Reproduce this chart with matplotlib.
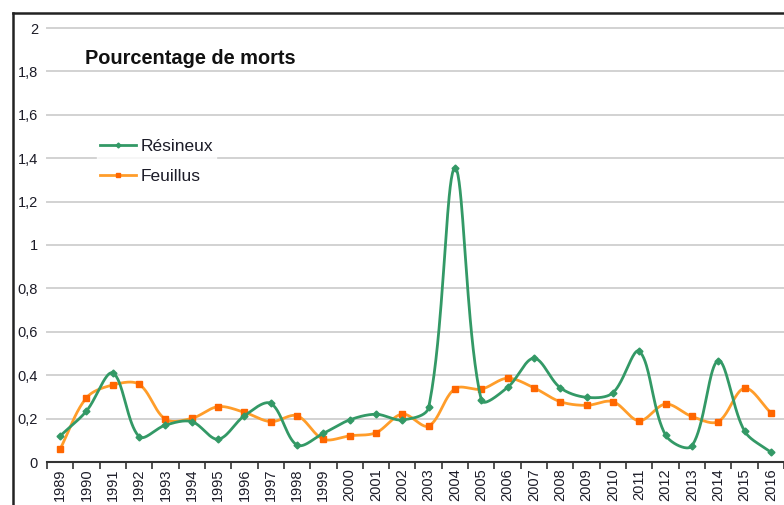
import numpy as np
import matplotlib
matplotlib.use("Agg")
import matplotlib.pyplot as plt
from matplotlib.lines import Line2D

plt.rcParams['font.family'] = ['Liberation Sans', 'DejaVu Sans']

years = [str(y) for y in range(1989, 2017)]
resineux = [0.12, 0.235, 0.41, 0.117, 0.17, 0.186, 0.105, 0.213, 0.27, 0.078,
            0.132, 0.194, 0.22, 0.194, 0.252, 1.355, 0.286, 0.344, 0.478, 0.342,
            0.298, 0.319, 0.51, 0.124, 0.074, 0.467, 0.143, 0.045]
feuillus = [0.06, 0.296, 0.355, 0.358, 0.197, 0.201, 0.255, 0.229, 0.186, 0.213,
            0.105, 0.121, 0.135, 0.221, 0.166, 0.338, 0.336, 0.386, 0.342, 0.278,
            0.261, 0.278, 0.19, 0.267, 0.21, 0.186, 0.34, 0.227]
yticks = [0, 0.2, 0.4, 0.6, 0.8, 1, 1.2, 1.4, 1.6, 1.8, 2]
ytick_labels = ['0', '0,2', '0,4', '0,6', '0,8', '1', '1,2', '1,4', '1,6', '1,8', '2']

W, H = 784, 505
XPX, YPX = 26.7, 217.0  # approximate pixels per data unit, used for chord lengths


def smooth(xs, ys, n=40):
    p = np.column_stack([xs, ys]).astype(float)
    q = p * np.array([XPX, YPX])
    m = len(p)
    L = np.hypot(*(q[1:] - q[:-1]).T)
    out = [p[0]]
    for i in range(m - 1):
        p1, p2 = p[i], p[i + 1]
        if i > 0:
            d = p[i + 1] - p[i - 1]
            c1 = p1 + d * L[i] / (L[i - 1] + L[i]) / 3.0
        else:
            c1 = p1 + (p2 - p1) / 3.0
        if i + 2 < m:
            d = p[i + 2] - p[i]
            c2 = p2 - d * L[i] / (L[i] + L[i + 1]) / 3.0
        else:
            c2 = p2 - (p2 - p1) / 3.0
        t = np.linspace(0, 1, n)[1:, None]
        seg = ((1 - t) ** 3) * p1 + 3 * ((1 - t) ** 2) * t * c1 + 3 * (1 - t) * t ** 2 * c2 + t ** 3 * p2
        out.extend(seg)
    out = np.array(out)
    return out[:, 0], out[:, 1]


fig = plt.figure(figsize=(W / 100, H / 100), dpi=100)
ax = fig.add_axes([47 / W, (H - 462) / H, (W - 47) / W, (462 - 28) / H])

x = np.arange(len(years))
green = '#339966'
orange_line = '#ff9d2a'
orange_mk = '#ff6600'
txt = '#1c1c28'

sx, sy = smooth(x, feuillus)
ax.plot(sx, sy, color=orange_line, lw=2, zorder=3)
ax.plot(x, feuillus, ls='none', marker='s', ms=5, color=orange_mk, zorder=4)
sx, sy = smooth(x, resineux)
ax.plot(sx, sy, color=green, lw=2, zorder=5)
ax.plot(x, resineux, ls='none', marker='D', ms=3.5, color=green, zorder=6)

ax.set_xlim(-0.5, 27.1)
ax.set_ylim(0, 2)
ax.set_yticks(yticks)
ax.set_yticklabels(ytick_labels)
ax.grid(axis='y', color='#d2d2d2', lw=1.4)
for gl in ax.get_ygridlines():
    gl.set_clip_on(False)
ax.set_axisbelow(True)
for s in ['top', 'right', 'left']:
    ax.spines[s].set_visible(False)
ax.spines['bottom'].set_color('#333333')
ax.spines['bottom'].set_linewidth(1.5)
ax.tick_params(axis='y', length=0, pad=6.5, labelsize=10.5, labelcolor=txt)

ax.set_xticks(np.arange(-0.5, 28, 1))
ax.set_xticklabels([])
ax.set_xticks(x, minor=True)
ax.set_xticklabels(years, minor=True, rotation=90, fontsize=10.5, color=txt)
ax.tick_params(axis='x', which='major', length=5, width=1.2, color='#333333', direction='out')
ax.tick_params(axis='x', which='minor', length=0, pad=4.5)

ax.text(85 / W, 1 - 58 / H, 'Pourcentage de morts', transform=fig.transFigure,
        fontsize=14.4, fontweight='bold', va='center', ha='left', color='#111111')

handles = [Line2D([], [], color=green, lw=2, marker='D', ms=2.5),
           Line2D([], [], color=orange_line, lw=2, marker='s', ms=3, mfc=orange_mk, mec=orange_mk)]
leg = ax.legend(handles, ['Résineux', 'Feuillus'], loc='upper left',
                bbox_to_anchor=(97 / W, 1 - 136 / H), bbox_transform=fig.transFigure,
                frameon=True, fontsize=12.5, handlelength=2.1, handletextpad=0.25,
                labelspacing=0.87, borderpad=0.15, borderaxespad=0, fancybox=False)
leg.get_frame().set_facecolor('white')
leg.get_frame().set_edgecolor('white')
for t in leg.get_texts():
    t.set_color(txt)

fig.add_artist(Line2D([13 / W, 13 / W], [0, 1 - 13 / H], transform=fig.transFigure, color='#222222', lw=1.8))
fig.add_artist(Line2D([13 / W, 1], [1 - 13 / H, 1 - 13 / H], transform=fig.transFigure, color='#222222', lw=1.8))

fig.savefig('out.png', dpi=100)
